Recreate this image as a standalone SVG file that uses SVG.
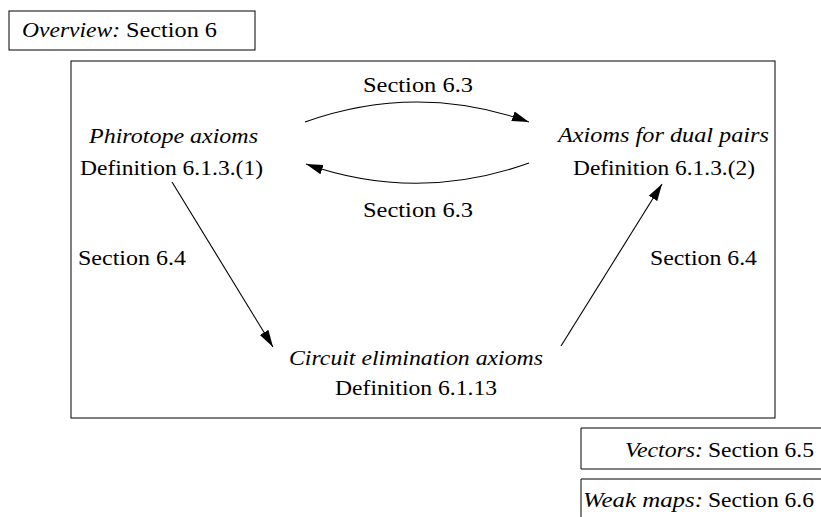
<svg xmlns="http://www.w3.org/2000/svg" width="821" height="517" viewBox="0 0 821 517" font-family="Liberation Serif, DejaVu Serif, serif">
<defs>
<style>
text{font-size:22px;fill:#000}
.it{font-style:italic}
.box{fill:none;stroke:#000;stroke-width:1}
.edge{fill:none;stroke:#000;stroke-width:1.1}
</style>
<marker id="ah" markerUnits="userSpaceOnUse" markerWidth="18" markerHeight="12" viewBox="0 0 18 12" refX="17" refY="6" orient="auto">
<path d="M0,1 L17,6 L0,11 Z" fill="#000"/>
</marker>
</defs>
<rect width="821" height="517" fill="#fff"/>
<g id="overview">
<rect class="box" x="9" y="11" width="246" height="39"/>
<text class="it" x="22" y="37" textLength="98" lengthAdjust="spacingAndGlyphs">Overview:</text>
<text x="126" y="37" textLength="91" lengthAdjust="spacingAndGlyphs">Section 6</text>
</g>
<g id="frame">
<rect class="box" x="71" y="61" width="704" height="357"/>
</g>
<g id="phirotope">
<text class="it" x="89" y="143" textLength="169" lengthAdjust="spacingAndGlyphs">Phirotope axioms</text>
<text x="80" y="175" textLength="183" lengthAdjust="spacingAndGlyphs">Definition 6.1.3.(1)</text>
</g>
<g id="dualpairs">
<text class="it" x="558" y="142" textLength="211" lengthAdjust="spacingAndGlyphs">Axioms for dual pairs</text>
<text x="573" y="175" textLength="182" lengthAdjust="spacingAndGlyphs">Definition 6.1.3.(2)</text>
</g>
<g id="circuit">
<text class="it" x="289" y="365" textLength="254" lengthAdjust="spacingAndGlyphs">Circuit elimination axioms</text>
<text x="335" y="395" textLength="162" lengthAdjust="spacingAndGlyphs">Definition 6.1.13</text>
</g>
<g id="vectors">
<path class="box" d="M581,428 H822 M581,428 V469 H822"/>
<text class="it" x="625" y="457" textLength="78" lengthAdjust="spacingAndGlyphs">Vectors:</text>
<text x="708" y="457" textLength="106" lengthAdjust="spacingAndGlyphs">Section 6.5</text>
</g>
<g id="weakmaps">
<path class="box" d="M581,479 H822 M581,479 V518"/>
<text class="it" x="583" y="507" textLength="120" lengthAdjust="spacingAndGlyphs">Weak maps:</text>
<text x="708" y="507" textLength="106" lengthAdjust="spacingAndGlyphs">Section 6.6</text>
</g>
<g id="connectors">
<path class="edge" d="M305,122 Q417,82 529,122" marker-end="url(#ah)"/>
<path class="edge" d="M529,163 Q417,203 306,164" marker-end="url(#ah)"/>
<path class="edge" d="M172,182 L273,347" marker-end="url(#ah)"/>
<path class="edge" d="M561,346 L662,184" marker-end="url(#ah)"/>
<text x="363" y="92" textLength="110" lengthAdjust="spacingAndGlyphs">Section 6.3</text>
<text x="363" y="217" textLength="110" lengthAdjust="spacingAndGlyphs">Section 6.3</text>
<text x="78" y="265" textLength="108" lengthAdjust="spacingAndGlyphs">Section 6.4</text>
<text x="650" y="265" textLength="107" lengthAdjust="spacingAndGlyphs">Section 6.4</text>
</g>
</svg>
